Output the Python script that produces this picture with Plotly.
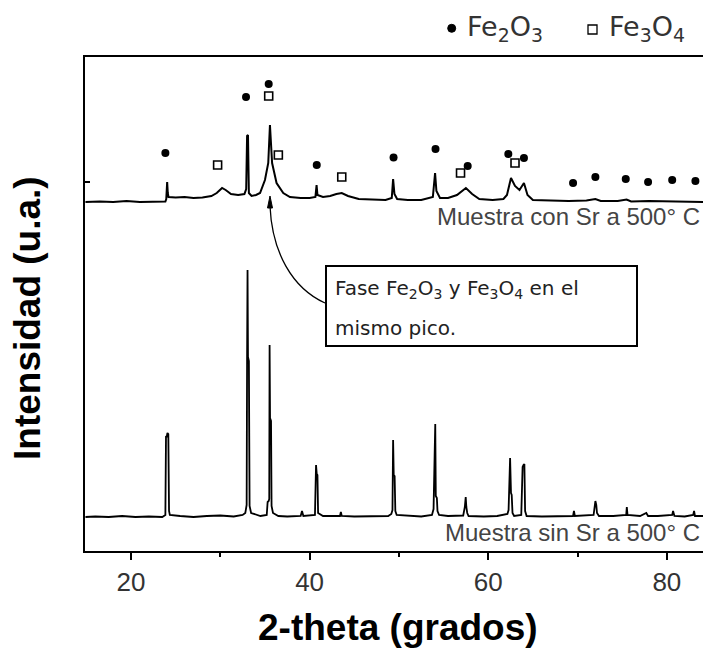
import plotly.graph_objects as go

# ---------------- data (2-theta in degrees, intensity in arbitrary units) ----------------
con_sr_x = [14.9, 16.5, 18.0, 19.5, 21.0, 22.5, 23.85, 23.95, 24.05, 24.12, 24.2, 25.0, 26.0, 27.0, 28.0,
            29.0, 29.6, 30.2, 30.6, 31.2, 32.0, 32.7, 32.9, 33.0, 33.1, 33.2, 33.5, 34.0, 34.45, 35.0,
            35.37, 35.56, 35.8, 36.3, 37.05, 37.8, 39.0, 40.0, 40.65, 40.78, 40.88, 41.5, 42.3, 43.0,
            43.6, 44.3, 45.5, 47.0, 48.5, 49.2, 49.35, 49.5, 49.8, 51.0, 52.5, 53.8, 54.05, 54.2, 54.6,
            55.5, 56.5, 57.5, 58.2, 59.0, 60.5, 61.7, 62.1, 62.55, 63.0, 63.5, 64.0, 64.4, 65.0, 67.0,
            69.0, 71.0, 72.0, 72.6, 74.5, 75.5, 76.0, 78.0, 80.0, 82.0, 84.1]
con_sr_y = [349, 349.5, 349, 350, 349, 349.5, 349.5, 352, 369, 358, 354, 353.5, 354, 353, 353.5,
            355, 358, 363, 361, 357, 356, 357, 362, 415, 416, 358, 355, 356, 358, 371,
            388, 426, 388, 368, 358, 354, 353, 353, 354, 366, 356, 354, 355, 357,
            358, 355, 352, 351.5, 351, 353, 372, 357, 352, 351, 351, 354, 378, 360, 353,
            353, 356, 363, 357, 352, 351, 352, 356, 373, 365, 361, 368, 356, 351, 350.5,
            350, 350.5, 352, 350, 350, 351.5, 349.5, 350, 349.5, 349, 349]

sin_sr_x = [14.9, 16.0, 17.5, 19.0, 20.5, 22.0, 23.5, 23.85, 23.92, 24.0, 24.08, 24.18, 24.26, 24.35,
            25.5, 27.0, 28.5, 30.0, 31.5, 32.5, 32.8, 32.95, 33.0, 33.05, 33.1, 33.2, 33.28, 33.45,
            34.5, 35.2, 35.3, 35.42, 35.48, 35.52, 35.57, 35.68, 35.74, 35.9, 36.5, 37.5, 39.0, 39.15,
            39.3, 40.6, 40.72, 40.8, 40.88, 40.95, 41.5, 42.5, 43.4, 43.5, 43.6, 45.0, 47.0, 48.8,
            49.15, 49.28, 49.35, 49.42, 49.52, 49.6, 49.75, 51.0, 52.5, 53.7, 53.88, 54.0, 54.07,
            54.13, 54.25, 54.32, 54.5, 55.5, 57.2, 57.38, 57.48, 57.55, 57.65, 57.8, 59.5, 61.0,
            62.15, 62.28, 62.35, 62.45, 62.55, 62.63, 62.72, 62.9, 63.7, 63.85, 63.95, 64.05, 64.13,
            64.3, 66.0, 68.0, 69.5, 69.6, 69.7, 71.8, 71.92, 72.0, 72.1, 72.18, 72.4, 74.0, 75.45,
            75.52, 75.6, 77.0, 77.7, 77.9, 79.0, 80.6, 80.7, 80.85, 82.0, 82.95, 83.05, 83.15, 84.1]
sin_sr_y = [34, 34.5, 34, 35, 34, 34.5, 34, 36, 115, 114, 118, 117, 40, 36,
            35, 34, 35, 35.5, 34.5, 36, 38, 46, 192, 281, 194, 190, 45, 38,
            35, 36, 49, 50, 52, 206, 133, 130, 45, 38, 35, 34.5, 35, 40,
            35, 36, 86, 77, 76, 38, 35, 35, 35, 39, 35, 34.5, 34.5, 35,
            37, 41, 111, 76, 75, 40, 36, 35, 34.5, 36, 42, 96, 127,
            55, 53, 40, 36, 35, 35.5, 44, 54, 44, 38, 35, 34.5, 35,
            37, 41, 71, 93, 58, 56, 38, 35, 36, 84, 86, 87, 40,
            35, 34.5, 35, 35, 40, 35, 36, 47, 50, 46, 38, 35, 35, 36,
            44, 36, 35, 38, 35, 35, 36, 40, 35, 34.5, 36, 40, 35, 35]

fe2o3_x = [23.85, 32.88, 35.42, 40.8, 49.4, 54.1, 57.7, 62.25, 64.0, 69.5, 72.0, 75.4, 77.9, 80.6, 83.2]
fe2o3_y = [398, 454, 467, 386, 393.5, 402, 385, 397, 393, 368, 374, 372, 369, 371, 370]

fe3o4_x = [29.7, 35.42, 36.5, 43.6, 56.9, 63.0]
fe3o4_y = [386, 455, 396, 374, 378, 388]

x_tick_vals = [20, 40, 60, 80]
x_tick_text = ["20", "40", "60", "80"]

# ---------------- layout helpers (pixel -> paper) ----------------
L, R, T, B = 85, 703, 57, 551
W, H = 703, 656


def px(x):
    return (x - L) / (R - L)


def py(y):
    return (B - y) / (B - T)


def pt(x, y):
    return f"{px(x):.5f},{py(y):.5f}"


fig = go.Figure()

fig.add_trace(go.Scatter(x=con_sr_x, y=con_sr_y, mode="lines",
                         line=dict(color="black", width=2), showlegend=False))
fig.add_trace(go.Scatter(x=sin_sr_x, y=sin_sr_y, mode="lines",
                         line=dict(color="black", width=1.8), showlegend=False))
fig.add_trace(go.Scatter(x=fe2o3_x, y=fe2o3_y, mode="markers",
                         marker=dict(symbol="circle", size=8, color="black"), showlegend=False))
fig.add_trace(go.Scatter(x=fe3o4_x, y=fe3o4_y, mode="markers",
                         marker=dict(symbol="square-open", size=8, color="black",
                                     line=dict(width=1.6, color="black")), showlegend=False))

shapes = []
# legend symbols
shapes.append(dict(type="circle", xref="paper", yref="paper",
                   x0=px(447.7), x1=px(455.7), y0=py(24.3), y1=py(32.3),
                   fillcolor="black", line=dict(color="black", width=1)))
shapes.append(dict(type="rect", xref="paper", yref="paper",
                   x0=px(588), x1=px(597), y0=py(25), y1=py(34),
                   fillcolor="white", line=dict(color="black", width=1.3)))
# note box
shapes.append(dict(type="rect", xref="paper", yref="paper",
                   x0=px(326), x1=px(637), y0=py(266), y1=py(346),
                   fillcolor="white", line=dict(color="black", width=2)))
# curved arrow
shapes.append(dict(type="path", xref="paper", yref="paper",
                   path=f"M {pt(325, 303)} C {pt(292, 288)} {pt(272, 252)} {pt(270, 206)}",
                   line=dict(color="black", width=1.3)))
shapes.append(dict(type="path", xref="paper", yref="paper",
                   path=f"M {pt(267.5, 208)} L {pt(270, 196)} L {pt(272.5, 208)} Z",
                   fillcolor="black", line=dict(color="black", width=1)))

annotations = []
txt_font = "Liberation Sans, Arial, sans-serif"
annotations.append(dict(xref="paper", yref="paper", x=px(465), y=py(28), xanchor="left", yanchor="middle",
                        text="Fe<sub>2</sub>O<sub>3</sub>", showarrow=False,
                        font=dict(family="DejaVu Sans", size=27, color="#333333")))
annotations.append(dict(xref="paper", yref="paper", x=px(607), y=py(28), xanchor="left", yanchor="middle",
                        text="Fe<sub>3</sub>O<sub>4</sub>", showarrow=False,
                        font=dict(family="DejaVu Sans", size=27, color="#333333")))
annotations.append(dict(xref="paper", yref="paper", x=px(702), y=py(217), xanchor="right", yanchor="middle",
                        text="Muestra con Sr a 500° C", showarrow=False,
                        font=dict(family=txt_font, size=24, color="#444444")))
annotations.append(dict(xref="paper", yref="paper", x=px(702), y=py(532), xanchor="right", yanchor="middle",
                        text="Muestra sin Sr a 500° C", showarrow=False,
                        font=dict(family=txt_font, size=24, color="#444444")))
annotations.append(dict(xref="paper", yref="paper", x=px(333), y=py(289), xanchor="left", yanchor="middle",
                        text="Fase Fe<sub>2</sub>O<sub>3</sub> y Fe<sub>3</sub>O<sub>4</sub> en el", showarrow=False,
                        font=dict(family="DejaVu Sans", size=20, color="#222222")))
annotations.append(dict(xref="paper", yref="paper", x=px(333), y=py(328), xanchor="left", yanchor="middle",
                        text="mismo pico.", showarrow=False,
                        font=dict(family="DejaVu Sans", size=20, color="#222222")))
# axis titles
annotations.append(dict(xref="paper", yref="paper", x=px(398), y=py(627), xanchor="center", yanchor="middle",
                        text="<b>2-theta (grados)</b>", showarrow=False,
                        font=dict(family=txt_font, size=37, color="black")))
annotations.append(dict(xref="paper", yref="paper", x=px(28), y=py(318), xanchor="center", yanchor="middle",
                        text="<b>Intensidad (u.a.)</b>", showarrow=False, textangle=-90,
                        font=dict(family=txt_font, size=37, color="black")))

fig.update_layout(
    width=W, height=H,
    margin=dict(l=L, r=W - R, t=T, b=H - B, pad=0),
    paper_bgcolor="white", plot_bgcolor="white",
    shapes=shapes, annotations=annotations,
    xaxis=dict(range=[14.85, 84.05], tickvals=x_tick_vals, ticktext=x_tick_text,
               showline=True, linecolor="black", linewidth=2, mirror=True,
               ticks="outside", ticklen=7, tickwidth=2, tickcolor="black",
               minor=dict(tickvals=[30, 50, 70], ticks="outside", ticklen=4, tickwidth=2, tickcolor="black"),
               showgrid=False, zeroline=False,
               tickfont=dict(family=txt_font, size=26, color="#333333")),
    yaxis=dict(range=[0, 494], showline=True, linecolor="black", linewidth=2, mirror=False,
               tickvals=[369], ticktext=[""], ticks="inside", ticklen=5, tickwidth=2, tickcolor="black",
               showgrid=False, zeroline=False),
)

fig.write_html("out.html")
